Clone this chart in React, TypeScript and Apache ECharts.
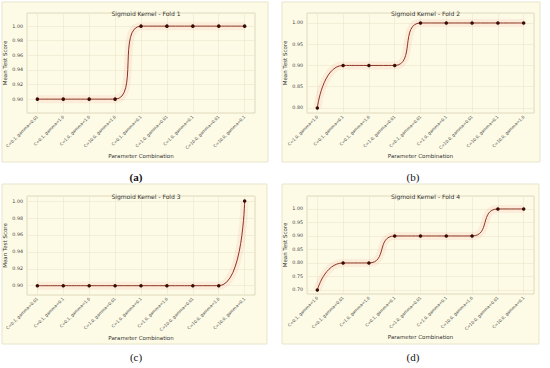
import React, { useEffect, useRef } from "react";
import * as echarts from "echarts";

const titles = ["Sigmoid Kernel - Fold 1", "Sigmoid Kernel - Fold 2", "Sigmoid Kernel - Fold 3", "Sigmoid Kernel - Fold 4"];
const captions = ["(a)", "(b)", "(c)", "(d)"];

const cats1 = ["C=0.1, gamma=0.01", "C=0.1, gamma=1.0", "C=1.0, gamma=1.0", "C=10.0, gamma=1.0", "C=0.1, gamma=0.1", "C=1.0, gamma=0.01", "C=1.0, gamma=0.1", "C=10.0, gamma=0.01", "C=10.0, gamma=0.1"];
const vals1 = [0.9, 0.9, 0.9, 0.9, 1.0, 1.0, 1.0, 1.0, 1.0];

const cats2 = ["C=1.0, gamma=1.0", "C=0.1, gamma=0.1", "C=0.1, gamma=1.0", "C=1.0, gamma=0.01", "C=0.1, gamma=0.01", "C=1.0, gamma=0.1", "C=10.0, gamma=0.01", "C=10.0, gamma=0.1", "C=10.0, gamma=1.0"];
const vals2 = [0.8, 0.9, 0.9, 0.9, 1.0, 1.0, 1.0, 1.0, 1.0];

const cats3 = ["C=0.1, gamma=0.01", "C=0.1, gamma=0.1", "C=0.1, gamma=1.0", "C=1.0, gamma=0.01", "C=1.0, gamma=0.1", "C=1.0, gamma=1.0", "C=10.0, gamma=0.01", "C=10.0, gamma=1.0", "C=10.0, gamma=0.1"];
const vals3 = [0.9, 0.9, 0.9, 0.9, 0.9, 0.9, 0.9, 0.9, 1.0];

const cats4 = ["C=0.1, gamma=1.0", "C=0.1, gamma=0.01", "C=1.0, gamma=1.0", "C=0.1, gamma=0.1", "C=1.0, gamma=0.01", "C=1.0, gamma=0.1", "C=10.0, gamma=1.0", "C=10.0, gamma=0.01", "C=10.0, gamma=0.1"];
const vals4 = [0.7, 0.8, 0.8, 0.9, 0.9, 0.9, 0.9, 1.0, 1.0];

const yTickSteps = [0.02, 0.05, 0.02, 0.05];
const yRanges: [number, number][] = [[0.881, 1.018], [0.788, 1.0235], [0.889, 1.006], [0.685, 1.048]];
const ySplits = [7, 5, 6, 7];

const allCats = [cats1, cats2, cats3, cats4];
const allVals = [vals1, vals2, vals3, vals4];

// layout
const boxes = [
  { x: 2, y: 2, w: 266, h: 160 },
  { x: 282, y: 2, w: 258, h: 160 },
  { x: 2, y: 184, w: 265, h: 160 },
  { x: 282, y: 184, w: 257, h: 160 },
];
const grids = [
  { left: 27, top: 13, width: 228, height: 100 },
  { left: 307, top: 13, width: 227, height: 100 },
  { left: 27, top: 196, width: 228, height: 99 },
  { left: 307, top: 196, width: 227, height: 98 },
];
const capPos = [
  { x: 136, y: 177 },
  { x: 413, y: 177 },
  { x: 136, y: 357 },
  { x: 413, y: 357 },
];

const FONT = "DejaVu Sans";
const CREAM = "#fdfbe6";
const LINE = "#8e3322";

export default function App() {
  const ref = useRef<HTMLDivElement>(null);
  useEffect(() => {
    if (!ref.current) return;
    const chart = echarts.init(ref.current, undefined, { renderer: "svg" });
    const xAxis: any[] = [];
    const yAxis: any[] = [];
    const series: any[] = [];
    const title: any[] = [];
    const graphic: any[] = [];
    for (let i = 0; i < 4; i++) {
      const cats = allCats[i];
      const vals = allVals[i];
      const step = yTickSteps[i];
      const [lo, hi] = yRanges[i];
      const b = boxes[i];
      graphic.push({
        type: "rect",
        z: -10,
        shape: { x: b.x, y: b.y, width: b.w, height: b.h },
        style: { fill: CREAM, stroke: "#e9e5cc", lineWidth: 1 },
      });
      graphic.push({
        type: "text",
        x: capPos[i].x,
        y: capPos[i].y,
        style: {
          text: captions[i],
          fontFamily: "Liberation Serif",
          fontSize: 11,
          fontWeight: i === 0 ? "bold" : "normal",
          fill: "#111",
          align: "center",
          verticalAlign: "middle",
        },
      });
      const g = grids[i];
      title.push({
        text: titles[i],
        left: g.left + g.width / 2,
        top: g.top - 8,
        textAlign: "center",
        textStyle: { fontFamily: FONT, fontSize: 6, fontWeight: "normal", color: "#333" },
      });
      xAxis.push({
        type: "value",
        gridIndex: i,
        min: -0.4,
        max: cats.length - 1 + 0.4,
        splitNumber: 9,
        name: "Parameter Combination",
        nameLocation: "middle",
        nameGap: 39,
        nameTextStyle: { fontFamily: FONT, fontSize: 5.5, color: "#333" },
        axisLine: { show: false },
        axisTick: { show: false },
        splitLine: { show: true, lineStyle: { color: "#ece7cc", width: 0.6 } },
        axisLabel: {
          rotate: 45,
          fontFamily: FONT,
          fontSize: 4.1,
          color: "#444",
          margin: 3,
          showMinLabel: false,
          showMaxLabel: false,
          formatter: (v: number) => {
            const r = Math.round(v);
            return Math.abs(v - r) < 1e-6 && r >= 0 && r < cats.length ? cats[r] : "";
          },
        },
      });
      yAxis.push({
        type: "value",
        gridIndex: i,
        min: lo,
        max: hi,
        splitNumber: ySplits[i],
        name: "Mean Test Score",
        nameLocation: "middle",
        nameGap: i % 2 === 0 ? 16 : 19,
        nameTextStyle: { fontFamily: FONT, fontSize: 5.5, color: "#333" },
        axisLine: { show: false },
        axisTick: { show: false },
        splitLine: { show: true, lineStyle: { color: "#ece7cc", width: 0.6 } },
        axisLabel: {
          fontFamily: FONT,
          fontSize: 4.8,
          color: "#444",
          margin: 4,
          showMinLabel: false,
          showMaxLabel: false,
          formatter: (v: number) => {
            const k = v / step;
            return Math.abs(k - Math.round(k)) < 1e-6 ? v.toFixed(2) : "";
          },
        },
      });
      const data = vals.map((v, j) => [j, v]);
      series.push({
        type: "line",
        xAxisIndex: i,
        yAxisIndex: i,
        data,
        smooth: 0.6,
        symbol: "none",
        silent: true,
        lineStyle: { color: "rgba(230,80,80,0.08)", width: 8 },
        z: 1,
      });
      series.push({
        type: "line",
        xAxisIndex: i,
        yAxisIndex: i,
        data,
        smooth: 0.6,
        symbol: "circle",
        symbolSize: 3.5,
        itemStyle: { color: "#3a0c08" },
        lineStyle: { color: LINE, width: 1 },
        z: 3,
      });
    }
    chart.setOption({
      animation: false,
      backgroundColor: "#ffffff",
      title,
      grid: grids.map((g) => ({
        ...g,
        show: true,
        backgroundColor: CREAM,
        borderColor: "#d6d2b8",
        borderWidth: 0.8,
        containLabel: false,
      })),
      xAxis,
      yAxis,
      series,
      graphic,
    });
    return () => chart.dispose();
  }, []);
  return (
    <div
      ref={ref}
      style={{ position: "fixed", left: 0, top: 0, width: 550, height: 368, background: "#fff" }}
    />
  );
}
